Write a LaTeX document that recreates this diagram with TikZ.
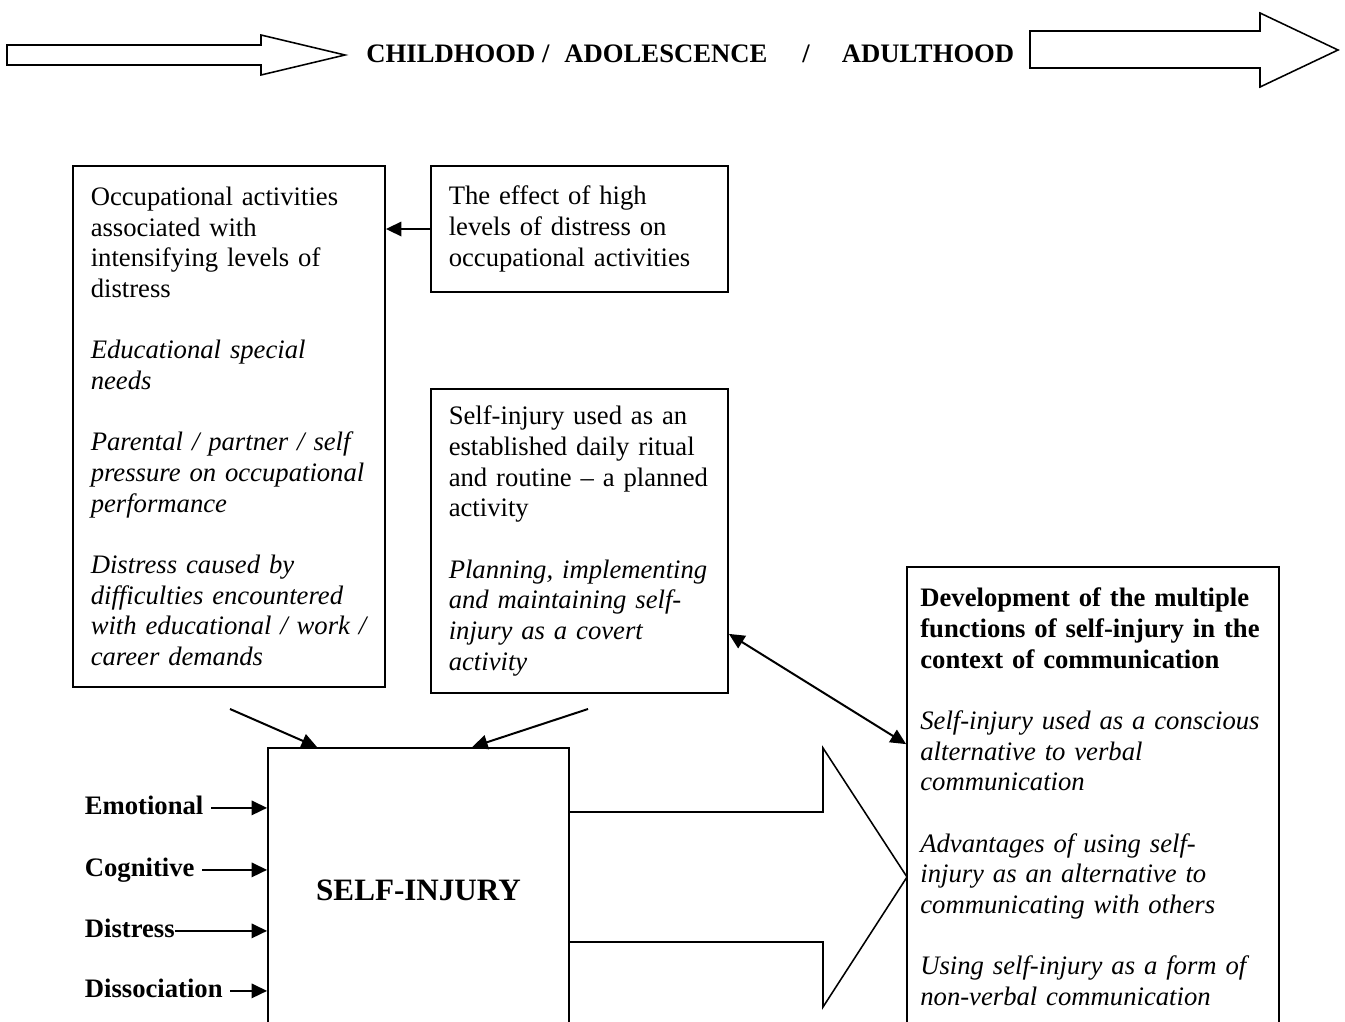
\documentclass[tikz,border=0pt]{standalone}
\usepackage{fontspec}
\setmainfont{Liberation Serif}
\usetikzlibrary{positioning,arrows.meta,calc}
\tikzset{
  panel/.style={draw,line width=0.8pt,align=left,inner xsep=8pt,inner ysep=0pt,
                font=\fontsize{12}{13.8}\selectfont},
  lbl/.style={anchor=base west,font=\fontsize{12}{13.8}\selectfont\bfseries,
              text height=8pt,text depth=2.5pt},
  flow/.style={-{Triangle[length=7pt,width=6.5pt]},line width=0.9pt},
  twoway/.style={{Triangle[length=7pt,width=6.5pt]}-{Triangle[length=7pt,width=6.5pt]},line width=0.9pt},
  blockarrow/.style={line width=0.7pt,line join=miter}
}
\newcommand{\gap}{\\[13.8pt]}

\begin{document}
\begin{tikzpicture}[x=0.45pt,y=-0.45pt]
    \useasboundingbox (0,0) rectangle (1345,1021);
    % time line
    \draw[blockarrow] (7,45) -- (261,45) -- (261,35) -- (345,55) -- (261,75) -- (261,65) -- (7,65) -- cycle;
    \draw[blockarrow] (1030,31) -- (1260,31) -- (1260,13) -- (1338,50) -- (1260,87) -- (1260,68) -- (1030,68) -- cycle;
    \node[anchor=base west,inner sep=0pt,font=\fontsize{12}{13.8}\selectfont\bfseries] (ages) at (366,62)
      {CHILDHOOD /\hspace{6.75pt}ADOLESCENCE\hspace{15.75pt}/\hspace{14.4pt}ADULTHOOD};
    % boxes
    \node[panel,text width=124.4pt,minimum width=140.4pt,minimum height=234.45pt] (occ) at (229,426.5)
      {Occupational activities\\ associated with\\ intensifying levels of\\ distress\gap
       \itshape Educational special\\ needs\gap
       Parental / partner / self\\ pressure on occupational\\ performance\gap
       Distress caused by\\ difficulties encountered\\ with educational / work /\\ career demands};
    \node[panel,text width=117.65pt,minimum width=133.65pt,minimum height=56.7pt] (eff) at (579.5,229)
      {The effect of high\\ levels of distress on\\ occupational activities};
    \node[panel,text width=117.65pt,minimum width=133.65pt,minimum height=136.8pt] (rit) at (579.5,541)
      {Self-injury used as an\\ established daily ritual\\ and routine -- a planned\\ activity\gap
       \itshape Planning, implementing\\ and maintaining self-\\ injury as a covert\\ activity};
    \node[panel,inner xsep=6pt,text width=155.4pt,minimum width=167.4pt,minimum height=207pt] (dev) at (1093,797)
      {\bfseries Development of the multiple\\ functions of self-injury in the\\ context of communication\gap
       \mdseries\itshape Self-injury used as a conscious\\ alternative to verbal\\ communication\gap
       Advantages of using self-\\ injury as an alternative to\\ communicating with others\gap
       Using self-injury as a form of\\ non-verbal communication};
    \node[draw,line width=0.8pt,minimum width=135.45pt,minimum height=127.8pt,
          font=\fontsize{14}{16.8}\selectfont\bfseries] (self) at (418.5,890) {SELF-INJURY};
    % inputs
    \node[lbl] (emo) at (77,814) {Emotional};
    \node[lbl] (cog) at (77,876) {Cognitive};
    \node[lbl] (dis) at (77,937) {Distress};
    \node[lbl] (dsc) at (77,997) {Dissociation};
    \draw[flow] (emo.east) -- (emo.east -| self.west);
    \draw[flow] (cog.east) -- (cog.east -| self.west);
    \draw[flow,shorten <=-3.5pt] (dis.east) -- (dis.east -| self.west);
    \draw[flow] (dsc.east) -- (dsc.east -| self.west);
    % links
    \draw[flow] (eff.west) -- (eff.west -| occ.east);
    \coordinate (fromocc) at (230,709);
    \coordinate (fromrit) at (588,709);
    \draw[flow] (fromocc) -- ($(self.north west)+(50,0)$);
    \draw[flow] (fromrit) -- ($(self.north west)+(205,0)$);
    \draw[twoway] ($(rit.south east)+(0,-60)$) -- ($(dev.north west)+(0,178)$);
    % big arrow
    \draw[blockarrow] (self.east |- 0,812) -- (823,812) -- (823,748) -- (907,877) -- (823,1007) -- (823,942) -- (self.east |- 0,942);
  \end{tikzpicture}
\end{document}
